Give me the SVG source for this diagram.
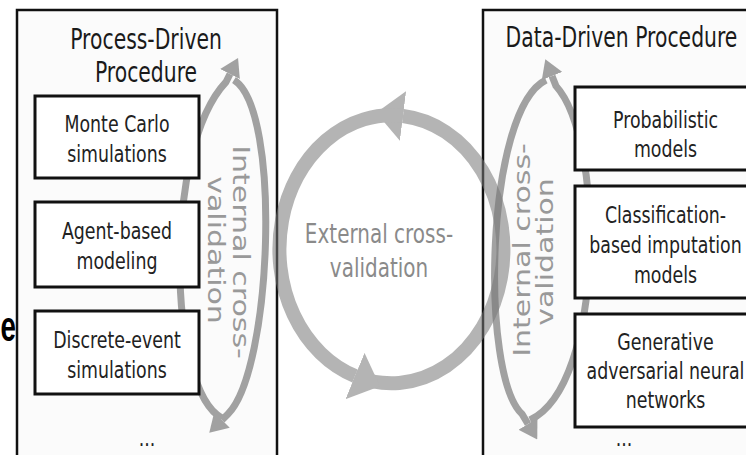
<svg xmlns="http://www.w3.org/2000/svg" width="746" height="455" viewBox="0 0 746 455">
<style>
.big{fill:#fbfbfb;stroke:#111;stroke-width:2.5}
.box{fill:#fff;stroke:#111;stroke-width:3}
.t{font-family:"DejaVu Sans","Liberation Sans",sans-serif;font-size:23.5px;fill:#222;text-anchor:middle}
.title{font-size:27.5px;fill:#1a1a1a}
.ext{font-family:"DejaVu Sans","Liberation Sans",sans-serif;font-size:27px;fill:#8a8a8a;text-anchor:middle}
.int{font-family:"DejaVu Sans","Liberation Sans",sans-serif;font-size:30px;fill:#999;text-anchor:middle}
.iband{fill:none;stroke:#666;stroke-width:7;marker-end:url(#ia)}
.eband{fill:none;stroke:#777;stroke-width:14;marker-end:url(#ea)}
</style>
<defs>
<marker id="ia" markerUnits="userSpaceOnUse" markerWidth="18" markerHeight="22" viewBox="0 0 18 22" refX="0" refY="11" orient="auto"><path d="M0,0 L18,11 L0,22 Z" fill="#666"/></marker>
<marker id="ea" markerUnits="userSpaceOnUse" markerWidth="27" markerHeight="50" viewBox="0 0 27 50" refX="0" refY="25" orient="auto"><path d="M0,0 L27,25 L0,50 Z" fill="#777"/></marker>
</defs>
<rect width="746" height="455" fill="#fff"/>
<text x="0" y="0" transform="translate(0.5,341) scale(0.66,1)" style="font-family:'Liberation Sans',Arial,sans-serif;font-size:42px;font-weight:bold;fill:#000;text-anchor:start">e</text>
<g id="process-driven">
<rect class="big" x="17" y="10" width="260" height="470"/>
<text class="t title" transform="translate(146,49) scale(0.74,1)"><tspan x="0" y="0">Process-Driven</tspan><tspan x="0" y="33">Procedure</tspan></text>
<text class="t" transform="translate(147,446) scale(0.74,1)">...</text>
</g>
<g id="data-driven">
<rect class="big" x="483" y="10" width="280" height="470"/>
<text class="t title" transform="translate(621.5,47) scale(0.74,1)">Data-Driven Procedure</text>
<text class="t" transform="translate(624,446) scale(0.74,1)">...</text>
</g>
<g id="connectors">
<g opacity="0.6">
<path class="iband" d="M222,418 C168,390 162,150 226,82 L230,74"/>
<path class="iband" d="M234,80 C282,110 272,370 228,414 L222,420"/>
<path class="iband" d="M530,420 C605,385 605,140 556,86 L552,76"/>
<path class="iband" d="M546,80 C485,110 480,375 522,414 L528,424"/>
</g>
<g opacity="0.55">
<path class="eband" d="M355,376 A112 134 0 1 0 403,116"/>
<path class="eband" d="M403,116 A112 134 0 0 0 355,376"/>
</g>
<text class="int" transform="translate(233,252) scale(0.74,1) rotate(90)">Internal cross-</text>
<text class="int" transform="translate(208,250) scale(0.74,1) rotate(90)">validation</text>
<text class="int" transform="translate(530,250) scale(0.74,1) rotate(-90)">Internal cross-</text>
<text class="int" transform="translate(553,252) scale(0.74,1) rotate(-90)">validation</text>
<text class="ext" transform="translate(379,243) scale(0.74,1)"><tspan x="0" y="0">External cross-</tspan><tspan x="0" y="34">validation</tspan></text>
</g>
<g id="monte-carlo">
<rect class="box" x="35" y="96" width="164" height="82"/>
<text class="t" transform="translate(117,132) scale(0.74,1)"><tspan x="0" y="0">Monte Carlo</tspan><tspan x="0" y="30">simulations</tspan></text>
</g>
<g id="agent-based">
<rect class="box" x="35" y="202" width="164" height="85"/>
<text class="t" transform="translate(117,239) scale(0.74,1)"><tspan x="0" y="0">Agent-based</tspan><tspan x="0" y="30">modeling</tspan></text>
</g>
<g id="discrete-event">
<rect class="box" x="35" y="311" width="164" height="83"/>
<text class="t" transform="translate(117,348) scale(0.74,1)"><tspan x="0" y="0">Discrete-event</tspan><tspan x="0" y="30">simulations</tspan></text>
</g>
<g id="probabilistic">
<rect class="box" x="575" y="87" width="181" height="83"/>
<text class="t" transform="translate(665.5,128) scale(0.74,1)"><tspan x="0" y="0">Probabilistic</tspan><tspan x="0" y="29">models</tspan></text>
</g>
<g id="classification">
<rect class="box" x="575" y="186" width="181" height="112"/>
<text class="t" transform="translate(665.5,223) scale(0.74,1)"><tspan x="0" y="0">Classification-</tspan><tspan x="0" y="30">based imputation</tspan><tspan x="0" y="60">models</tspan></text>
</g>
<g id="generative">
<rect class="box" x="575" y="314" width="181" height="113"/>
<text class="t" transform="translate(665.5,350) scale(0.74,1)"><tspan x="0" y="0">Generative</tspan><tspan x="0" y="29">adversarial neural</tspan><tspan x="0" y="58">networks</tspan></text>
</g>
</svg>
